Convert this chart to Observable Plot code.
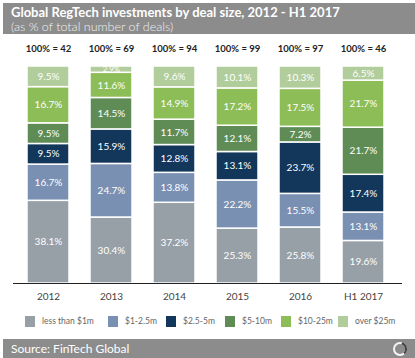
<!DOCTYPE html>
<html>
<head>
<meta charset="utf-8">
<script src="https://cdn.jsdelivr.net/npm/d3@7"></script>
<script src="https://cdn.jsdelivr.net/npm/@observablehq/plot@0.6"></script>
<style>
  html, body { margin: 0; padding: 0; background: #fff; }
  #root { position: relative; width: 415px; height: 358px; overflow: hidden; font-family: Lato, "Open Sans", sans-serif; background: #fff; }
  #header { position: absolute; left: 3px; top: 3px; width: 412px; height: 31px; background: #8c8c8c; color: #fff; }
  #title { position: absolute; left: 8px; top: 1px; font-size: 13px; font-weight: bold; white-space: nowrap; }
  #subtitle { position: absolute; left: 8px; top: 16px; font-size: 12.5px; font-weight: 300; white-space: nowrap; color: #f0f0f0; }
  #chart { position: absolute; left: 0; top: 36px; }
  #legend { position: absolute; left: 0; top: 315px; width: 415px; height: 14px; font-size: 8.5px; color: #666; }
  .li { position: absolute; top: 0; height: 12px; display: flex; align-items: center; white-space: nowrap; }
  .sw { width: 10px; height: 11px; margin-right: 7px; display: inline-block; }
  #footer { position: absolute; left: 3px; top: 339px; width: 412px; height: 19px; background: #8c8c8c; color: #fff; }
  #source { position: absolute; left: 8px; top: 2px; font-size: 12px; font-weight: 400; white-space: nowrap; }
</style>
</head>
<body>
<div id="root">
  <div id="header"><div id="title"></div><div id="subtitle"></div></div>
  <div id="chart"></div>
  <div id="legend"></div>
  <div id="footer"><div id="source"></div><svg id="logo" width="20" height="19" style="position:absolute;left:387px;top:0"></svg></div>
</div>
<script>
const titleText = "Global RegTech investments by deal size, 2012 - H1 2017";
const subtitleText = "(as % of total number of deals)";
const sourceText = "Source: FinTech Global";

const years = ["2012", "2013", "2014", "2015", "2016", "H1 2017"];
const totals = [42, 69, 94, 99, 97, 46];
const categories = ["less than $1m", "$1-2.5m", "$2.5-5m", "$5-10m", "$10-25m", "over $25m"];
const colors = ["#979fa7", "#7a90b2", "#12375b", "#5f8c55", "#8dbd57", "#b2cd9c"];

const lessThan1m = [38.1, 30.4, 37.2, 25.3, 25.8, 19.6];
const m1to2_5    = [16.7, 24.7, 13.8, 22.2, 15.5, 13.1];
const m2_5to5    = [9.5, 15.9, 12.8, 13.1, 23.7, 17.4];
const m5to10     = [9.5, 14.5, 11.7, 12.1, 7.2, 21.7];
const m10to25    = [16.7, 11.6, 14.9, 17.2, 17.5, 21.7];
const over25m    = [9.5, 2.9, 9.6, 10.1, 10.3, 6.5];

const series = [lessThan1m, m1to2_5, m2_5to5, m5to10, m10to25, over25m];

document.getElementById("title").textContent = titleText;
document.getElementById("subtitle").textContent = subtitleText;
document.getElementById("source").textContent = sourceText;

const data = [];
years.forEach((yr, i) => {
  categories.forEach((c, j) => {
    data.push({year: yr, cat: c, value: series[j][i]});
  });
});
const totalRows = years.map((yr, i) => ({year: yr, label: `100% = ${totals[i]}`}));

const chart = Plot.plot({
  width: 415,
  height: 272,
  marginTop: 30,
  marginBottom: 25,
  marginLeft: 13,
  marginRight: 13,
  style: {fontFamily: "Lato, 'Open Sans', sans-serif", background: "transparent"},
  x: {domain: years, range: [25, 386], paddingInner: 0.341, paddingOuter: 0, axis: null},
  y: {domain: [0, 100], axis: null},
  color: {domain: categories, range: colors},
  marks: [
    Plot.barY(data, {x: "year", y: "value", fill: "cat", z: "cat", stroke: "#fff", strokeWidth: 1.5}),
    Plot.text(data, Plot.stackY({x: "year", y: "value", z: "cat", text: d => d.value.toFixed(1) + "%", fill: "#fff", fontSize: d => d.value < 5 ? 8 : 10, clip: true})),
    Plot.ruleY([0], {stroke: "#222", strokeWidth: 1.2}),
    Plot.text(totalRows, {x: "year", y: () => 100, text: "label", dy: -18, fontSize: 9.5, fontWeight: "bold", fill: "#222"}),
    Plot.text(years, {x: d => d, frameAnchor: "bottom", dy: 16, text: d => d, fontSize: 10, fontWeight: 400, fill: "#444"})
  ]
});
document.getElementById("chart").appendChild(chart);

// legend
const legendX = [25, 108, 166, 225, 281, 338];
const legend = document.getElementById("legend");
categories.forEach((c, j) => {
  const item = document.createElement("div");
  item.className = "li";
  item.style.left = legendX[j] + "px";
  const sw = document.createElement("span");
  sw.className = "sw";
  sw.style.background = colors[j];
  item.appendChild(sw);
  const t = document.createElement("span");
  t.textContent = c;
  item.appendChild(t);
  legend.appendChild(item);
});

// logo
const logo = d3.select("#logo");
logo.append("circle").attr("cx", 10).attr("cy", 10).attr("r", 6).attr("fill", "none").attr("stroke", "#f4f4f4").attr("stroke-width", 2);
logo.append("path").attr("d", d3.arc()({innerRadius: 5, outerRadius: 7, startAngle: 0.3, endAngle: 2.4})).attr("transform", "translate(10,10)").attr("fill", "#444");
</script>
</body>
</html>
